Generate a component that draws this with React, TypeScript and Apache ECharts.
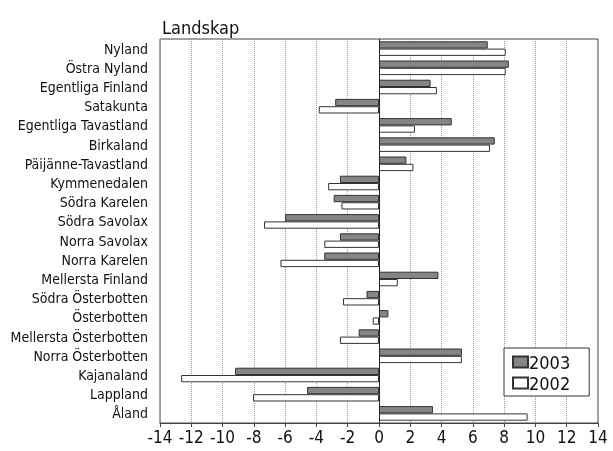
import React, { useEffect, useRef } from "react";
import * as echarts from "echarts";

const regions = [
  "Nyland",
  "Östra Nyland",
  "Egentliga Finland",
  "Satakunta",
  "Egentliga Tavastland",
  "Birkaland",
  "Päijänne-Tavastland",
  "Kymmenedalen",
  "Södra Karelen",
  "Södra Savolax",
  "Norra Savolax",
  "Norra Karelen",
  "Mellersta Finland",
  "Södra Österbotten",
  "Österbotten",
  "Mellersta Österbotten",
  "Norra Österbotten",
  "Kajanaland",
  "Lappland",
  "Åland",
];

const values2003 = [6.95, 8.3, 3.3, -2.8, 4.65, 7.4, 1.75, -2.5, -2.9, -6.0, -2.5, -3.5, 3.8, -0.8, 0.6, -1.3, 5.3, -9.2, -4.6, 3.45];
const values2002 = [8.1, 8.1, 3.7, -3.85, 2.3, 7.1, 2.2, -3.25, -2.4, -7.35, -3.5, -6.3, 1.2, -2.3, -0.4, -2.5, 5.3, -12.65, -8.05, 9.5];

const seriesNames = ["2003", "2002"];
const xMin = -14;
const xMax = 14;
const xStep = 2;

const FONT = "'DejaVu Sans Condensed', 'Liberation Sans Narrow', 'Open Sans', sans-serif";

export default function App() {
  const ref = useRef<HTMLDivElement>(null);
  useEffect(() => {
    if (!ref.current) return;
    const chart = echarts.init(ref.current, null, { renderer: "svg" });
    chart.setOption({
      animation: false,
      textStyle: { fontFamily: FONT },
      title: {
        text: "Landskap",
        left: 157,
        top: 13,
        textStyle: { fontFamily: FONT, fontSize: 18, fontWeight: "normal", color: "#111" },
      },
      legend: {
        data: seriesNames,
        orient: "vertical",
        left: 504,
        top: 348,
        icon: "rect",
        itemWidth: 15,
        itemHeight: 11,
        itemGap: 3,
        padding: [5, 19, 4, 8],
        borderColor: "#333",
        borderWidth: 1,
        backgroundColor: "#fff",
        textStyle: { fontFamily: FONT, fontSize: 18, color: "#111", padding: [0, 0, 0, -4] },
      },
      grid: {
        left: 160,
        right: 15,
        top: 39,
        bottom: 28,
        show: true,
        borderColor: "#444",
        borderWidth: 1,
        containLabel: false,
      },
      xAxis: {
        type: "value",
        min: xMin,
        max: xMax,
        interval: xStep,
        axisLine: { show: true, lineStyle: { color: "#444" } },
        axisTick: { show: true, length: 4, lineStyle: { color: "#444" } },
        axisLabel: { fontFamily: FONT, fontSize: 17, color: "#111", margin: 5 },
        splitLine: { show: true, lineStyle: { type: "dotted", color: "#999", width: 1 } },
      },
      yAxis: {
        type: "category",
        data: regions,
        inverse: true,
        axisLine: { show: false, onZero: false },
        axisTick: { show: false },
        axisLabel: { fontFamily: FONT, fontSize: 14, color: "#111", margin: 12 },
        splitLine: { show: false },
      },
      series: [
        {
          name: seriesNames[0],
          type: "bar",
          data: values2003,
          barGap: "0%",
          barCategoryGap: "24%",
          itemStyle: { color: "#858585", borderColor: "#333", borderWidth: 1 },
          markLine: {
            silent: true,
            symbol: "none",
            label: { show: false },
            lineStyle: { color: "#222", type: "solid", width: 1 },
            data: [{ xAxis: 0 }],
          },
        },
        {
          name: seriesNames[1],
          type: "bar",
          data: values2002,
          barGap: "0%",
          barCategoryGap: "24%",
          itemStyle: { color: "#ffffff", borderColor: "#333", borderWidth: 1 },
        },
      ],
    });
    return () => chart.dispose();
  }, []);
  return (
    <div
      ref={ref}
      style={{ position: "fixed", left: 0, top: 0, width: 613, height: 451 }}
    />
  );
}
